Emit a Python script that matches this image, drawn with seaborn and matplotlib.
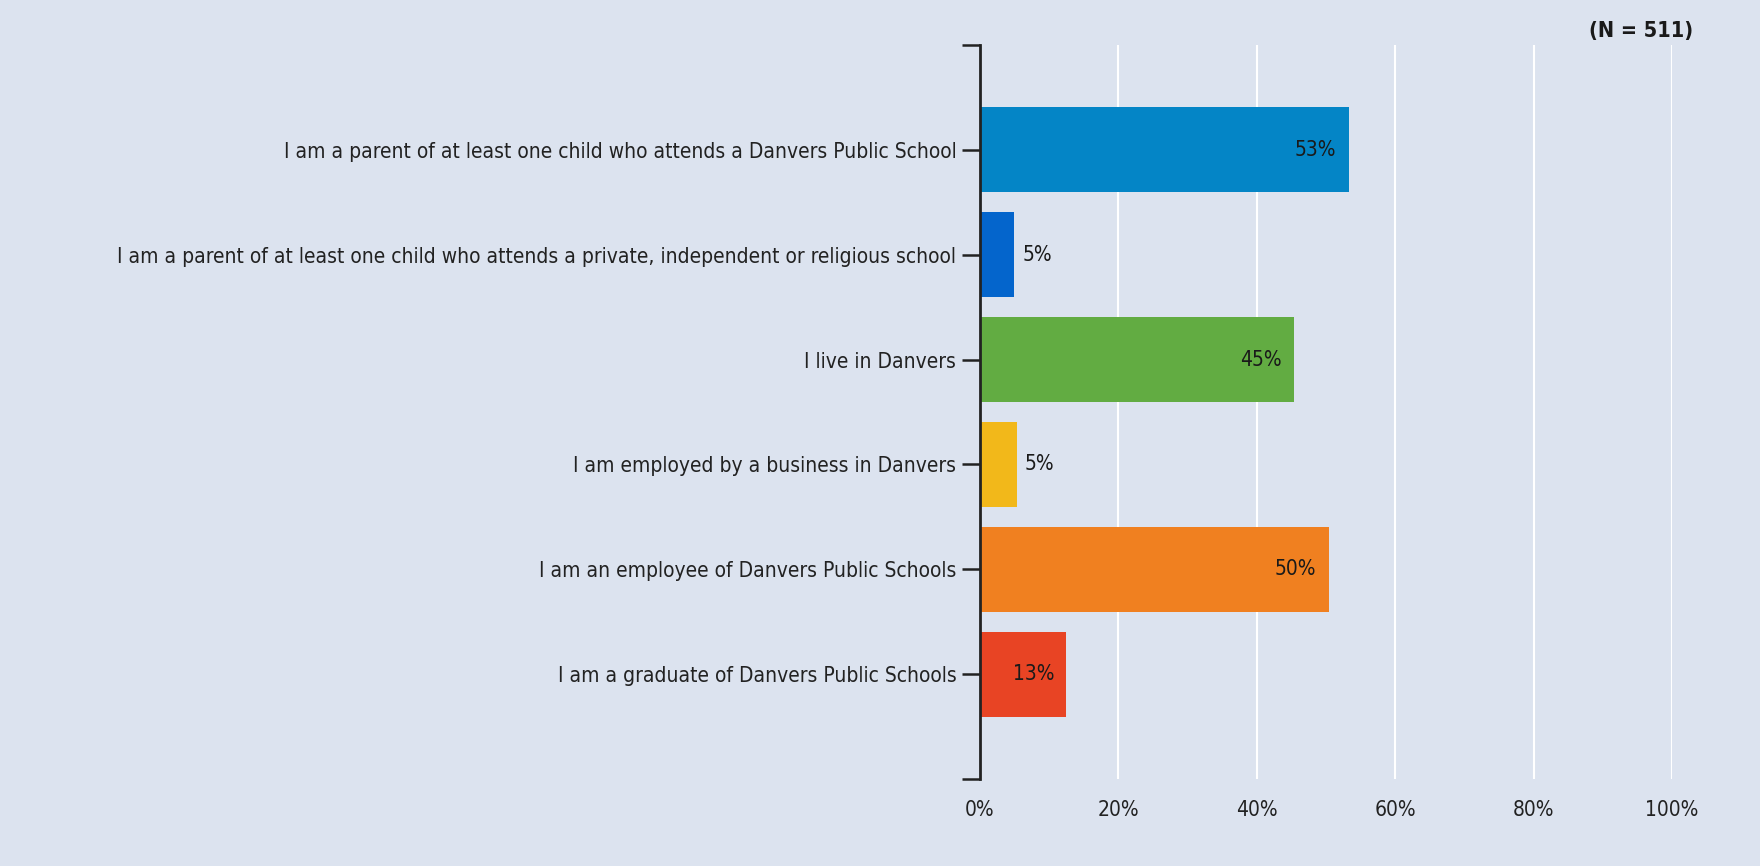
import pandas as pd
import seaborn as sns
import matplotlib.pyplot as plt
from matplotlib import font_manager

# Survey responses (share of respondents, %)
categories = [
    "I am a parent of at least one child who attends a Danvers Public School",
    "I am a parent of at least one child who attends a private, independent or religious school",
    "I live in Danvers",
    "I am employed by a business in Danvers",
    "I am an employee of Danvers Public Schools",
    "I am a graduate of Danvers Public Schools",
]
values = [53.3, 4.9, 45.4, 5.3, 50.4, 12.5]
value_labels = ["53%", "5%", "45%", "5%", "50%", "13%"]
bar_colors = ["#0485c6", "#0465cc", "#62ac42", "#f2b81a", "#f08020", "#e84424"]
x_ticks = [0, 20, 40, 60, 80, 100]
x_tick_labels = ["0%", "20%", "40%", "60%", "80%", "100%"]
n_label = "(N = 511)"

bg = "#dce3ef"
sns.set_style("white")

# pick a narrow font if one is installed
fonts = font_manager.fontManager.ttflist
names = {f.name for f in fonts}
stretch = "normal"
if "Liberation Sans Narrow" in names:
    fam = "Liberation Sans Narrow"
elif any(f.name == "DejaVu Sans" and "ondensed" in f.fname for f in fonts):
    fam = "DejaVu Sans"
    stretch = "condensed"
elif "Roboto" in names:
    fam = "Roboto"
else:
    fam = "DejaVu Sans"
plt.rcParams['font.family'] = [fam, 'DejaVu Sans']
plt.rcParams['font.stretch'] = stretch

df = pd.DataFrame({"category": categories, "value": values})

fig = plt.figure(figsize=(17.6, 8.66), dpi=100, facecolor=bg)
ax = fig.add_axes([0.5568, 0.1005, 0.3932, 0.8475])
ax.set_facecolor(bg)

sns.barplot(data=df, y="category", x="value", hue="category", palette=bar_colors,
            legend=False, width=0.81, saturation=1, linewidth=0, ax=ax, zorder=3)

ax.set_xlim(0, 100)
ax.set_ylim(6, -1)

# white vertical gridlines
for t in x_ticks[1:]:
    ax.axvline(t, color="white", lw=1.5, zorder=1)

fs = 16.3
ax.set_xticks(x_ticks)
ax.set_xticklabels(x_tick_labels, fontsize=fs, color="#222222")
ax.tick_params(axis="x", length=0, pad=15)

# y ticks at categories plus end caps at -1 and 6
yt = list(range(-1, len(categories) + 1))
ax.set_yticks(yt)
ylabs = ax.set_yticklabels([""] + categories + [""], fontsize=fs, color="#222222")
ax.tick_params(axis="y", left=True, length=13, width=1.8, color="#222222", pad=4)

# shrink labels so the longest one fits in the space the reference uses
fig.canvas.draw()
r = fig.canvas.get_renderer()
w = max(t.get_window_extent(r).width for t in ylabs)
if w > 840:
    fs = fs * 840 / w
    for t in ylabs:
        t.set_fontsize(fs)
    for t in ax.get_xticklabels():
        t.set_fontsize(fs)

for s in ["top", "right", "bottom"]:
    ax.spines[s].set_visible(False)
ax.spines["left"].set_color("#222222")
ax.spines["left"].set_linewidth(2)
ax.spines["left"].set_zorder(4)
ax.set_xlabel("")
ax.set_ylabel("")

# value labels
for i, (v, lab) in enumerate(zip(values, value_labels)):
    if v > 10:
        ax.text(v - 1.8, i, lab, ha="right", va="center", fontsize=fs, color="#1a1a1a", zorder=5)
    else:
        ax.text(v + 1.2, i, lab, ha="left", va="center", fontsize=fs, color="#1a1a1a", zorder=5)

fig.text(0.962, 0.964, n_label, ha="right", va="center", fontsize=fs + 0.5,
         fontweight="bold", color="#1a1a1a")

fig.savefig("out.png", dpi=100, facecolor=bg)
